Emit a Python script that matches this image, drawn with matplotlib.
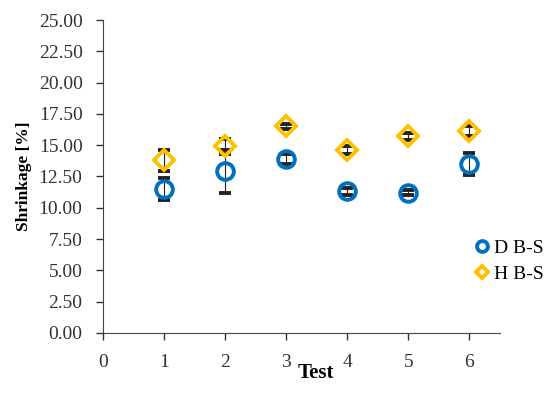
import matplotlib.pyplot as plt

plt.rcParams['font.family'] = ['Liberation Serif', 'DejaVu Serif']

tests = [1, 2, 3, 4, 5, 6]
d_bs = [11.5, 12.9, 13.9, 11.3, 11.2, 13.5]
d_bs_err = [0.85, 1.7, 0.4, 0.3, 0.2, 0.85]
h_bs = [13.8, 14.9, 16.5, 14.6, 15.7, 16.1]
h_bs_err = [0.85, 0.6, 0.2, 0.3, 0.3, 0.4]

blue = '#0070C0'
gold = '#FFC000'

fig = plt.figure(figsize=(5.5, 3.93), dpi=100)
ax = fig.add_axes([0.188, 0.153, 0.721, 0.796])

ax.errorbar(tests, d_bs, yerr=d_bs_err, fmt='o', mfc='none', mec=blue, mew=2.8,
            ms=12, ecolor='#222222', elinewidth=0.8, capsize=4.5, capthick=0.8,
            label='D B-S', zorder=3)
ax.errorbar(tests, h_bs, yerr=h_bs_err, fmt='D', mfc='none', mec=gold, mew=2.8,
            ms=10, ecolor='#222222', elinewidth=0.8, capsize=4.5, capthick=0.8,
            label='H B-S', zorder=3)

ax.set_xlim(0, 6.5)
ax.set_ylim(0, 25)
ax.set_xticks(range(0, 7))
ax.set_yticks([i * 2.5 for i in range(11)])
ax.set_yticklabels(['%.2f' % (i * 2.5) for i in range(11)])
ax.tick_params(labelsize=14, colors='#333333', length=5, width=1)
ax.tick_params(axis='x', pad=10)
ax.tick_params(axis='y', pad=10)
for s in ['top', 'right']:
    ax.spines[s].set_visible(False)
for s in ['left', 'bottom']:
    ax.spines[s].set_color('#444444')

ax.set_xlabel('Test', fontsize=15, fontweight='bold')
ax.xaxis.set_label_coords(0.535, -0.097)
ax.set_ylabel('Shrinkage [%]', fontsize=12.5, fontweight='bold', labelpad=5)

handles, labels = ax.get_legend_handles_labels()
handles = [h[0] for h in handles]
leg = ax.legend(handles, labels, loc='center left', bbox_to_anchor=(0.885, 0.23),
                frameon=False, fontsize=14, handletextpad=0.15, handlelength=1,
                markerscale=0.65, labelspacing=0.45)

fig.savefig('out.png', dpi=100)
